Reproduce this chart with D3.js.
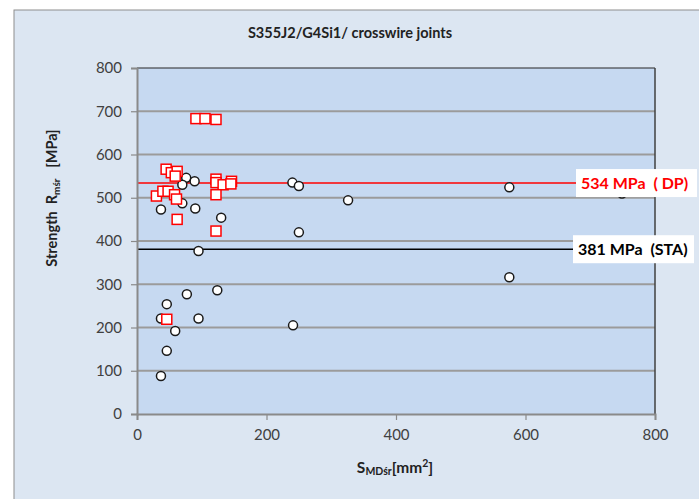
<!DOCTYPE html>
<html>
<head>
<meta charset="utf-8">
<script src="https://cdn.jsdelivr.net/npm/d3@7"></script>
<style>
  html, body { margin: 0; padding: 0; background: #ffffff; }
  svg { display: block; }
  text { font-family: "Lato", "Liberation Sans", sans-serif; }
</style>
</head>
<body>
<svg id="chart" width="699" height="499"></svg>
<script>
// Cross-wire joint strength vs. mean weld area
const titleText = "S355J2/G4Si1/ crosswire joints";
const xTicks = [0, 200, 400, 600, 800];
const yTicks = [0, 100, 200, 300, 400, 500, 600, 700, 800];

// STA series (round markers)
const staX = [76, 89, 70, 70, 37, 90, 130, 240, 250, 326, 250, 575, 575, 749, 95, 37, 46, 59, 37, 46, 77, 124, 95, 241];
const staY = [546, 538, 530, 487, 473, 475, 454, 535, 527, 494, 420, 524, 316, 510, 377, 88, 146, 192, 221, 254, 277, 286, 221, 205];

// DP series (square markers)
const dpX = [91, 105, 122, 45, 53, 62, 59, 122, 122, 133, 146, 145, 122, 30, 40, 48, 58, 61, 62, 122, 46];
const dpY = [683, 683, 681, 566, 558, 561, 550, 543, 535, 530, 538, 532, 507, 504, 515, 515, 507, 497, 450, 423, 219];

// Mean strength levels
const levelValues = [534, 381];
const levelLabels = ["534 MPa  ( DP)", "381 MPa  (STA)"];
const levelColors = ["#ff0000", "#000000"];

const svg = d3.select("#chart");

// chart area background
svg.append("rect")
  .attr("x", 14).attr("y", 10).attr("width", 699).attr("height", 499)
  .attr("fill", "#dce6f2").attr("stroke", "#8e8e8e").attr("stroke-width", 1);

const plot = { left: 137, right: 655, top: 68, bottom: 414 };
const x = d3.scaleLinear().domain([0, 800]).range([plot.left, plot.right]);
const y = d3.scaleLinear().domain([0, 800]).range([plot.bottom, plot.top]);

// title
svg.append("text")
  .attr("x", 350).attr("y", 38)
  .attr("text-anchor", "middle")
  .attr("font-size", 14.5).attr("font-weight", "bold").attr("fill", "#222")
  .text(titleText);

// plot background
svg.append("rect")
  .attr("x", plot.left).attr("y", plot.top)
  .attr("width", plot.right - plot.left).attr("height", plot.bottom - plot.top)
  .attr("fill", "#c6d9f1");

// horizontal gridlines
svg.append("g")
  .selectAll("line")
  .data(yTicks.filter(v => v > 0 && v < 800))
  .join("line")
  .attr("x1", plot.left).attr("x2", plot.right)
  .attr("y1", d => y(d)).attr("y2", d => y(d))
  .attr("stroke", "#9b9b9b").attr("stroke-width", 2);

// top and right frame
svg.append("line")
  .attr("x1", plot.left).attr("x2", plot.right)
  .attr("y1", plot.top).attr("y2", plot.top)
  .attr("stroke", "#262626").attr("stroke-width", 1.2);
svg.append("line")
  .attr("x1", plot.right).attr("x2", plot.right)
  .attr("y1", plot.top).attr("y2", plot.bottom)
  .attr("stroke", "#404040").attr("stroke-width", 1.5);

// mean level lines
const boxLeft = [576, 573];
levelValues.forEach((v, i) => {
  svg.append("line")
    .attr("x1", plot.left).attr("x2", boxLeft[i])
    .attr("y1", y(v)).attr("y2", y(v))
    .attr("stroke", levelColors[i]).attr("stroke-width", 1.5);
});

// STA markers
svg.append("g")
  .selectAll("circle")
  .data(staX.map((d, i) => [d, staY[i]]))
  .join("circle")
  .attr("cx", d => x(d[0])).attr("cy", d => y(d[1]))
  .attr("r", 4.5)
  .attr("fill", "#ffffff").attr("stroke", "#1a1a1a").attr("stroke-width", 1.5);

// DP markers
svg.append("g")
  .selectAll("rect")
  .data(dpX.map((d, i) => [d, dpY[i]]))
  .join("rect")
  .attr("x", d => x(d[0]) - 5).attr("y", d => y(d[1]) - 5)
  .attr("width", 10).attr("height", 10)
  .attr("fill", "#ffffff").attr("stroke", "#ff0000").attr("stroke-width", 1.5);

// level labels on white boxes
levelValues.forEach((v, i) => {
  const g = svg.append("g");
  g.append("rect")
    .attr("x", boxLeft[i]).attr("y", y(v) - 14)
    .attr("width", 121).attr("height", 28)
    .attr("fill", "#ffffff");
  g.append("text")
    .attr("x", boxLeft[i] + 5).attr("y", y(v) + 6)
    .attr("font-size", 16).attr("font-weight", "bold")
    .attr("fill", levelColors[i])
    .attr("xml:space", "preserve")
    .style("white-space", "pre")
    .text(levelLabels[i]);
});

// axes
const yAxis = svg.append("g")
  .attr("transform", `translate(${plot.left},0)`)
  .call(d3.axisLeft(y).tickValues(yTicks).tickSize(6).tickPadding(9));
const xAxis = svg.append("g")
  .attr("transform", `translate(0,${plot.bottom})`)
  .call(d3.axisBottom(x).tickValues(xTicks).tickSize(6).tickPadding(9));
[yAxis, xAxis].forEach(a => {
  a.select(".domain").attr("stroke", "#8a8a8a").attr("stroke-width", 2);
  a.selectAll(".tick line").attr("stroke", "#8a8a8a").attr("stroke-width", 1.2);
  a.selectAll(".tick text")
    .attr("font-family", "Lato, 'Liberation Sans', sans-serif")
    .attr("font-size", 15).attr("fill", "#404040");
});

// y-axis title
const yt = svg.append("text")
  .attr("transform", "translate(57,198) rotate(-90)")
  .attr("text-anchor", "middle")
  .attr("font-size", 14.5).attr("font-weight", "bold").attr("fill", "#222")
  .attr("xml:space", "preserve").style("white-space", "pre");
yt.append("tspan").text("Strength  R");
yt.append("tspan").attr("font-size", 10).attr("dy", 3).text("mśr");
yt.append("tspan").attr("dy", -3).text("   [MPa]");

// x-axis title
const xt = svg.append("text")
  .attr("x", 395).attr("y", 473)
  .attr("text-anchor", "middle")
  .attr("font-size", 15.5).attr("font-weight", "bold").attr("fill", "#222");
xt.append("tspan").text("S");
xt.append("tspan").attr("font-size", 10.5).attr("dy", 2).text("MDśr");
xt.append("tspan").attr("dy", -2).text("[mm");
xt.append("tspan").attr("font-size", 10.5).attr("dy", -6).text("2");
xt.append("tspan").attr("dy", 6).text("]");
</script>
</body>
</html>
